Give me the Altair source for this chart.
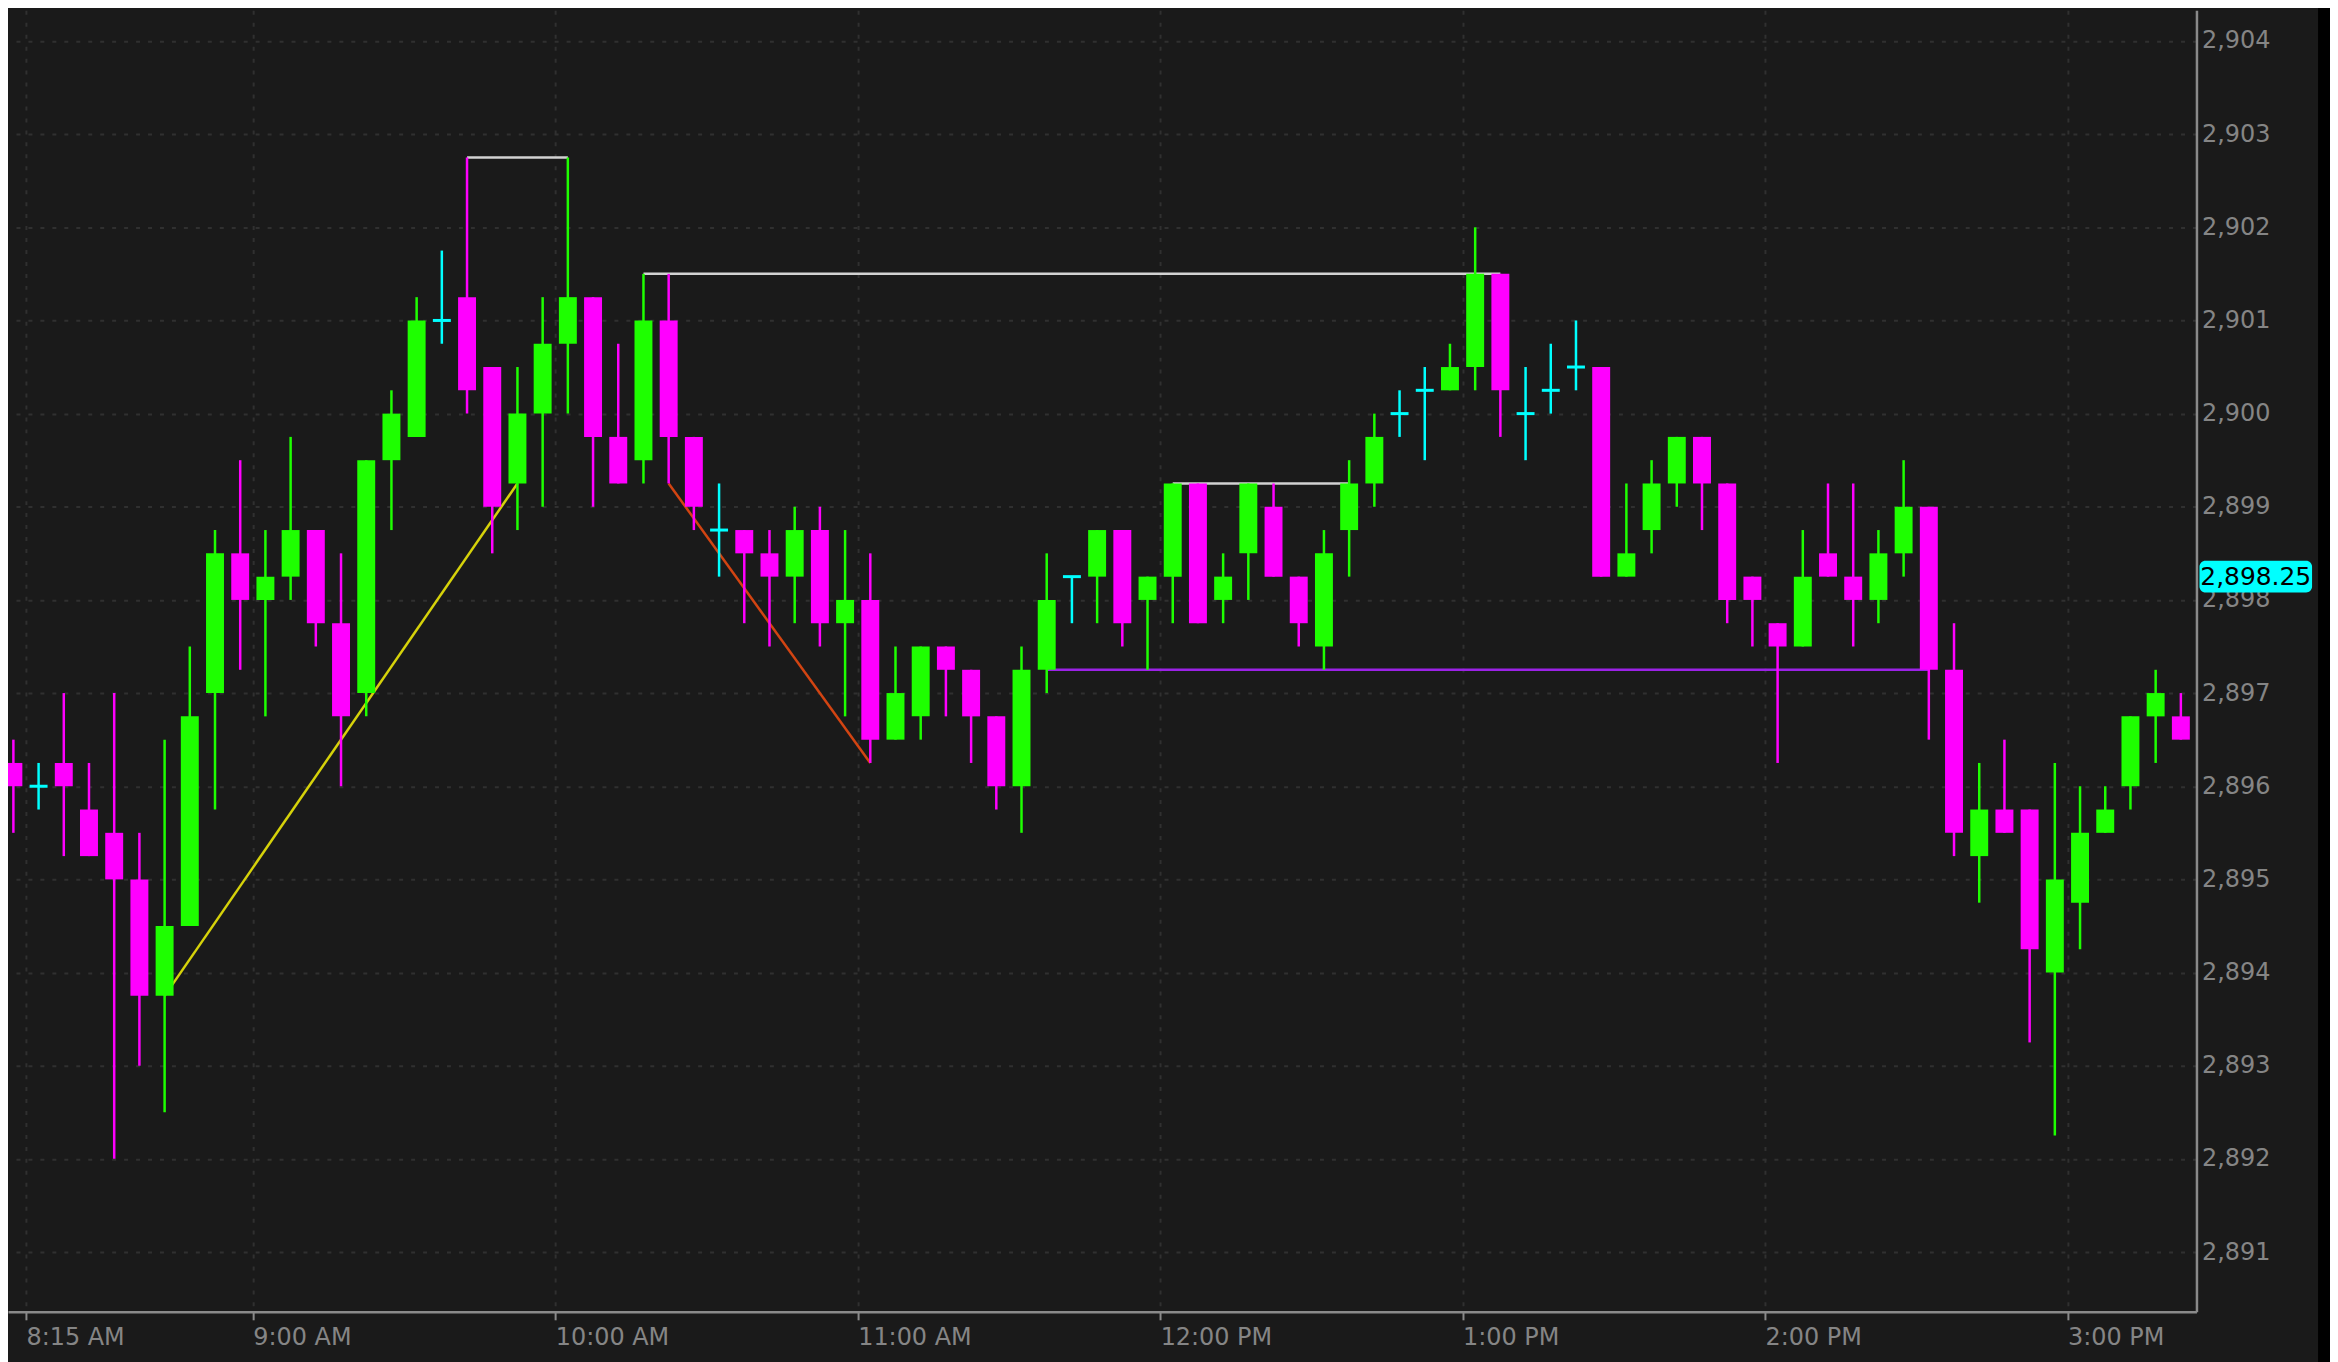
import altair as alt
import pandas as pd

# 5-minute candles, first bar opens 8:10 AM
opens = [2896.25, 2896.0, 2896.25, 2895.75, 2895.5, 2895.0, 2893.75, 2894.5, 2897.0, 2898.5,
         2898.0, 2898.25, 2898.75, 2897.75, 2897.0, 2899.5, 2899.75, 2901.0, 2901.25, 2900.5,
         2899.25, 2900.0, 2900.75, 2901.25, 2899.75, 2899.5, 2901.0, 2899.75, 2898.75, 2898.75,
         2898.5, 2898.25, 2898.75, 2897.75, 2898.0, 2896.5, 2896.75, 2897.5, 2897.25, 2896.75,
         2896.0, 2897.25, 2898.25, 2898.25, 2898.75, 2898.0, 2898.25, 2899.25, 2898.0, 2898.5,
         2899.0, 2898.25, 2897.5, 2898.75, 2899.25, 2900.0, 2900.25, 2900.25, 2900.5, 2901.5,
         2900.0, 2900.25, 2900.5, 2900.5, 2898.25, 2898.75, 2899.25, 2899.75, 2899.25, 2898.25,
         2897.75, 2897.5, 2898.5, 2898.25, 2898.0, 2898.5, 2899.0, 2897.25, 2895.25, 2895.75,
         2895.75, 2894.0, 2894.75, 2895.5, 2896.0, 2896.75, 2896.75]
highs = [2896.5, 2896.25, 2897.0, 2896.25, 2897.0, 2895.5, 2896.5, 2897.5, 2898.75, 2899.5,
         2898.75, 2899.75, 2898.75, 2898.5, 2899.5, 2900.25, 2901.25, 2901.75, 2902.75, 2900.5,
         2900.5, 2901.25, 2902.75, 2901.25, 2900.75, 2901.5, 2901.5, 2899.75, 2899.25, 2898.75,
         2898.75, 2899.0, 2899.0, 2898.75, 2898.5, 2897.5, 2897.5, 2897.5, 2897.25, 2896.75,
         2897.5, 2898.5, 2898.25, 2898.75, 2898.75, 2898.25, 2899.25, 2899.25, 2898.5, 2899.25,
         2899.25, 2898.25, 2898.75, 2899.5, 2900.0, 2900.25, 2900.5, 2900.75, 2902.0, 2901.5,
         2900.5, 2900.75, 2901.0, 2900.5, 2899.25, 2899.5, 2899.75, 2899.75, 2899.25, 2898.25,
         2897.75, 2898.75, 2899.25, 2899.25, 2898.75, 2899.5, 2899.0, 2897.75, 2896.25, 2896.5,
         2895.75, 2896.25, 2896.0, 2896.0, 2896.75, 2897.25, 2897.0]
lows = [2895.5, 2895.75, 2895.25, 2895.25, 2892.0, 2893.0, 2892.5, 2894.5, 2895.75, 2897.25,
        2896.75, 2898.0, 2897.5, 2896.0, 2896.75, 2898.75, 2899.75, 2900.75, 2900.0, 2898.5,
        2898.75, 2899.0, 2900.0, 2899.0, 2899.25, 2899.25, 2899.25, 2898.75, 2898.25, 2897.75,
        2897.5, 2897.75, 2897.5, 2896.75, 2896.25, 2896.5, 2896.5, 2896.75, 2896.25, 2895.75,
        2895.5, 2897.0, 2897.75, 2897.75, 2897.5, 2897.25, 2897.75, 2897.75, 2897.75, 2898.0,
        2898.25, 2897.5, 2897.25, 2898.25, 2899.0, 2899.75, 2899.5, 2900.25, 2900.25, 2899.75,
        2899.5, 2900.0, 2900.25, 2898.25, 2898.25, 2898.5, 2899.0, 2898.75, 2897.75, 2897.5,
        2896.25, 2897.5, 2898.25, 2897.5, 2897.75, 2898.25, 2896.5, 2895.25, 2894.75, 2895.5,
        2893.25, 2892.25, 2894.25, 2895.5, 2895.75, 2896.25, 2896.5]
closes = [2896.0, 2896.0, 2896.0, 2895.25, 2895.0, 2893.75, 2894.5, 2896.75, 2898.5, 2898.0,
          2898.25, 2898.75, 2897.75, 2896.75, 2899.5, 2900.0, 2901.0, 2901.0, 2900.25, 2899.0,
          2900.0, 2900.75, 2901.25, 2899.75, 2899.25, 2901.0, 2899.75, 2899.0, 2898.75, 2898.5,
          2898.25, 2898.75, 2897.75, 2898.0, 2896.5, 2897.0, 2897.5, 2897.25, 2896.75, 2896.0,
          2897.25, 2898.0, 2898.25, 2898.75, 2897.75, 2898.25, 2899.25, 2897.75, 2898.25, 2899.25,
          2898.25, 2897.75, 2898.5, 2899.25, 2899.75, 2900.0, 2900.25, 2900.5, 2901.5, 2900.25,
          2900.0, 2900.25, 2900.5, 2898.25, 2898.5, 2899.25, 2899.75, 2899.25, 2898.0, 2898.0,
          2897.5, 2898.25, 2898.25, 2898.0, 2898.5, 2899.0, 2897.25, 2895.5, 2895.75, 2895.5,
          2894.25, 2895.0, 2895.5, 2895.75, 2896.75, 2897.0, 2896.5]

first_bar_minute = 490   # 8:10 AM, minutes after midnight
bar_minutes = 5

tick_values = [495, 540, 600, 660, 720, 780, 840, 900]
tick_labels = ["8:15 AM", "9:00 AM", "10:00 AM", "11:00 AM", "12:00 PM", "1:00 PM", "2:00 PM", "3:00 PM"]
price_ticks = [2891, 2892, 2893, 2894, 2895, 2896, 2897, 2898, 2899, 2900, 2901, 2902, 2903, 2904]

# drawing annotations: (bar index start, bar index end, price start, price end, kind)
seg_start = [18, 25, 46, 41, 6, 26]
seg_end = [22, 59, 53, 76, 20, 34]
seg_p0 = [2902.75, 2901.5, 2899.25, 2897.25, 2893.75, 2899.25]
seg_p1 = [2902.75, 2901.5, 2899.25, 2897.25, 2899.25, 2896.25]
seg_kind = ["level", "level", "level", "support", "up", "down"]

last_price = [2898.25]
last_label = ["2,898.25"]

n = len(opens)
times = [first_bar_minute + bar_minutes * i + bar_minutes / 2 for i in range(n)]
dirs = ["up" if c > o else ("down" if c < o else "flat") for o, c in zip(opens, closes)]
df = pd.DataFrame({"t": times, "open": opens, "high": highs, "low": lows,
                   "close": closes, "dir": dirs})

seg = pd.DataFrame({
    "t0": [times[i] for i in seg_start],
    "t1": [times[i] for i in seg_end],
    "p0": seg_p0, "p1": seg_p1, "kind": seg_kind,
})
lab = pd.DataFrame({"price": last_price, "label": last_label})

label_expr = " : ".join(
    f"datum.value == {v} ? '{l}'" for v, l in zip(tick_values, tick_labels)
) + " : ''"

FONT = "DejaVu Sans"
AXIS_GRAY = "#8a8a8a"
LABEL_GRAY = "#858585"

xscale = alt.Scale(domain=[491.432, 925.596], nice=False, zero=False)
yscale = alt.Scale(domain=[2890.358, 2904.329], nice=False, zero=False)

xaxis = alt.Axis(values=tick_values, labelExpr=label_expr, title=None,
                 grid=True, gridColor="#303030", gridDash=[4, 8], gridWidth=2,
                 domainColor=AXIS_GRAY, domainWidth=2.5,
                 ticks=True, tickSize=8, tickColor=AXIS_GRAY, tickWidth=2,
                 labelAlign="left", labelBaseline="top", labelPadding=6,
                 labelFont=FONT, labelFontSize=24, labelColor=LABEL_GRAY,
                 labelOverlap=False, labelFlush=False)
yaxis = alt.Axis(orient="right", values=price_ticks, format=",.0f", title=None,
                 grid=True, gridColor="#303030", gridDash=[4, 8], gridWidth=2,
                 domainColor=AXIS_GRAY, domainWidth=2.5, ticks=False,
                 labelPadding=5, labelAlign="left", labelBaseline="middle",
                 labelFont=FONT, labelFontSize=24, labelColor=LABEL_GRAY,
                 labelOverlap=False, labelFlush=False)

color = alt.Color("dir:N", legend=None,
                  scale=alt.Scale(domain=["up", "down", "flat"],
                                  range=["#1eff00", "#ff00ff", "#00ffff"]))
seg_color = alt.Color("kind:N", legend=None,
                      scale=alt.Scale(domain=["level", "support", "up", "down"],
                                      range=["#d2d2d2", "#9b22e6", "#d6d20a", "#d24412"]))

half_body = 1.78  # minutes

segments = alt.Chart(seg).mark_rule(strokeWidth=2.5).encode(
    x=alt.X("t0:Q", scale=xscale, axis=xaxis),
    x2="t1:Q",
    y=alt.Y("p0:Q", scale=yscale, axis=yaxis),
    y2="p1:Q",
    color=seg_color,
)

wicks = alt.Chart(df).mark_rule(strokeWidth=2.5).encode(
    x=alt.X("t:Q", scale=xscale, axis=xaxis),
    y=alt.Y("low:Q", scale=yscale, axis=yaxis),
    y2="high:Q",
    color=color,
)

bodies = alt.Chart(df).transform_filter(
    "datum.dir != 'flat'"
).transform_calculate(
    xa=f"datum.t - {half_body}", xb=f"datum.t + {half_body}"
).mark_rect().encode(
    x=alt.X("xa:Q", scale=xscale, axis=xaxis),
    x2="xb:Q",
    y=alt.Y("open:Q", scale=yscale, axis=yaxis),
    y2="close:Q",
    color=color,
)

dojis = alt.Chart(df).transform_filter(
    "datum.dir == 'flat'"
).transform_calculate(
    xa=f"datum.t - {half_body}", xb=f"datum.t + {half_body}"
).mark_rule(strokeWidth=3).encode(
    x=alt.X("xa:Q", scale=xscale, axis=xaxis),
    x2="xb:Q",
    y=alt.Y("open:Q", scale=yscale, axis=yaxis),
    color=color,
)

candles = alt.layer(wicks, bodies, dojis)

price_box = alt.Chart(lab).transform_calculate(
    lo="datum.price - 0.17", hi="datum.price + 0.17"
).mark_rect(color="#00ffff", cornerRadius=6).encode(
    x=alt.value(2199), x2=alt.value(2312),
    y=alt.Y("lo:Q", scale=yscale, axis=yaxis),
    y2="hi:Q",
)

price_text = alt.Chart(lab).mark_text(
    font=FONT, fontSize=25, color="#000000", align="center", baseline="middle"
).encode(
    x=alt.value(2255.5),
    y=alt.Y("price:Q", scale=yscale, axis=yaxis),
    text="label:N",
)

edge = alt.Chart(lab).mark_rect(color="#000000").encode(
    x=alt.value(2318), x2=alt.value(2334),
    y=alt.value(-10), y2=alt.value(1360),
)

chart = alt.layer(segments, candles, price_box, price_text, edge).resolve_scale(
    color="independent"
).properties(
    width=2196, height=1306,
    autosize=alt.AutoSizeParams(type="none"),
    padding={"left": 0, "top": 0, "right": 134, "bottom": 48},
).configure(background="#1a1a1a").configure_view(stroke=None)

chart.save("out.html", embed_options={"renderer": "svg", "actions": False})
